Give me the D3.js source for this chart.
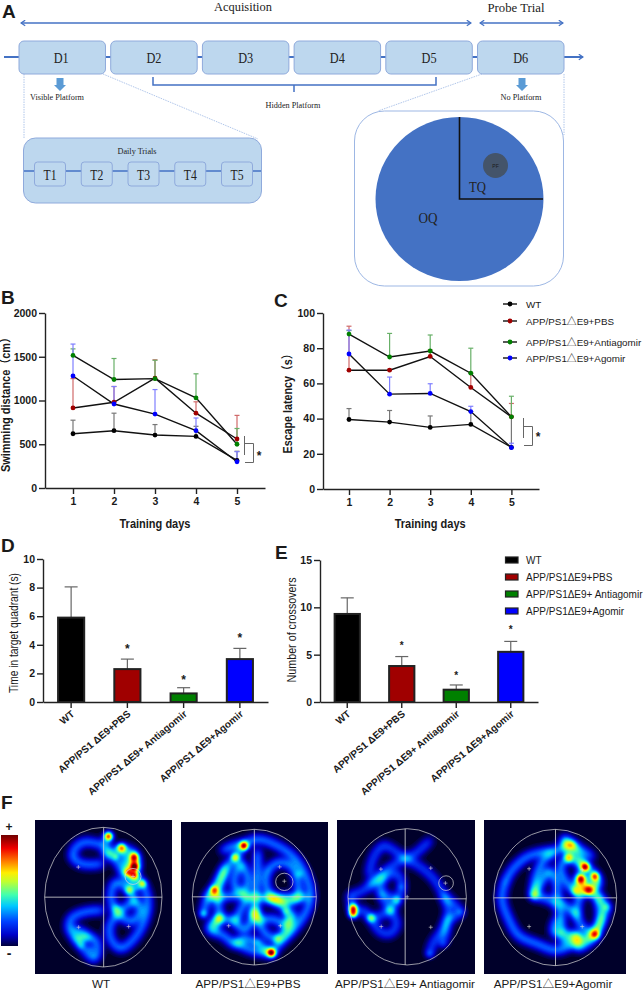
<!DOCTYPE html>
<html><head><meta charset="utf-8">
<script src="https://cdnjs.cloudflare.com/ajax/libs/d3/7.8.5/d3.min.js"></script>
<style>
html,body{margin:0;padding:0;background:#fff}
svg{display:block}
text{font-family:"Liberation Sans","Noto Sans CJK SC",Arial,sans-serif;fill:#1a1a1a}
.serif{font-family:"Liberation Serif","Noto Serif",serif;fill:#222}
</style></head><body>
<svg id="c" width="643" height="992"></svg>
<script>
// ---------- data ----------
const days=[1,2,3,4,5];
const lineGroups=["WT","APP/PS1△E9+PBS","APP/PS1△E9+Antiagomir","APP/PS1△E9+Agomir"];
const lineColors=["#000000","#a00000","#008000","#0000ff"];
const errColors=["#777777","#d06a6a","#68b068","#7f7fff"];
const distWT=[620,655,605,590,315], distWTtop=[775,855,725,705,420];
const distPBS=[915,980,1255,855,560], distPBStop=[1250,1160,1465,985,830];
const distAnti=[1515,1240,1250,1030,500], distAntitop=[1590,1480,1460,1305,680];
const distAgo=[1280,960,845,655,300], distAgotop=[1645,1160,1125,800,415];
const latWT=[39.5,38,35,36.7,23.7], latWTtop=[45.7,44.6,41.5,44,41];
const latPBS=[67.5,67.5,75.3,57.7,41], latPBStop=[92.5,68,79,66,48.6];
const latAnti=[88,75,78.4,65.8,41], latAntitop=[90,88.4,87.5,80,52.7];
const latAgo=[76.7,53.9,54.3,44,23.5], latAgotop=[90.3,63.6,59.8,47,26];
const barGroups=["WT","APP/PS1 ΔE9+PBS","APP/PS1 ΔE9+ Antiagomir","APP/PS1 ΔE9+Agomir"];
const barColors=["#000000","#a00000","#008000","#0000ff"];
const timeVals=[5.9,2.3,0.6,3.0], timeTop=[8.05,3.0,1.0,3.75];
const crossVals=[9.3,3.8,1.3,5.3], crossTop=[11,4.8,1.8,6.4];
const schedule=["D1","D2","D3","D4","D5","D6"];
const trials=["T1","T2","T3","T4","T5"];
const heatLabels=["WT","APP/PS1△E9+PBS","APP/PS1△E9+ Antiagomir","APP/PS1△E9+Agomir"];
// swim tracks, in camera units of each frame
const tracks1=[
 [[305,150],[250,140],[222,160],[215,185],[240,205],[280,208],[305,205]],
 [[322,125],[315,160],[330,175],[360,160],[375,200],[385,230],[400,180],[405,240],[430,275],[440,310],[440,345],[420,400],[390,440],[360,460],[335,440],[325,400],[345,360],[380,330],[400,315],[385,285],[345,260],[330,300],[340,340]],
 [[310,170],[350,200],[370,240],[400,265],[385,285]],
 [[305,345],[250,350],[210,370],[205,400],[225,430],[245,455],[280,490],[290,470],[285,435],[265,425],[235,405],[215,400]],
 [[225,430],[265,425]],[[340,340],[390,380],[420,340],[400,315]],[[360,160],[395,170],[410,220]]];
const hot1=[[323,123,.7],[362,157,.42],[400,185,.36],[402,215,.48],[400,240,.5],[380,230,.28],[425,265,.36],[385,285,.2],[345,338,.1],[240,450,.1],[270,460,.08],[345,185,.14,7],[385,235,.14,7],[410,280,.1,7]];
const tracks2=[
 [[608,355],[620,310],[645,270],[680,210],[705,185],[728,150]],
 [[665,165],[700,150],[725,145],[770,130],[830,150],[880,185],[915,240],[930,300],[915,350],[880,400],[850,430],[830,450],[812,472],[770,440],[725,430],[700,445],[670,420],[625,400],[650,370],[705,372],[720,340],[740,305],[700,300],[650,305],[620,300]],
 [[800,225],[830,200],[870,210],[890,260],[890,310],[850,320],[810,300],[795,260],[800,225]],
 [[720,200],[740,240],[730,290],[700,270],[710,220],[720,200]],
 [[675,215],[660,260],[650,300],[655,370],[640,400]],
 [[770,165],[770,220],[765,305],[770,370],[800,420],[830,430]],
 [[740,305],[800,310],[860,345],[855,390],[820,370],[770,370],[760,340],[740,400],[720,400],[700,370]],
 [[800,305],[920,305]],[[705,440],[740,460],[780,470],[810,472]],[[880,350],[860,400],[830,430]]];
const hot2=[[730,150,.62],[703,185,.36],[640,283,.4],[608,355,.22],[812,472,.66],[855,347,.16],[655,368,.12],[830,430,.14],[895,235,.1],[770,440,.08]];
const tracks3=[
 [[300,135],[255,175],[225,190],[180,215],[130,255],[115,270]],
 [[115,240],[130,185],[160,150],[190,165],[225,190],[270,215],[310,250],[340,300],[355,350],[340,400],[310,440],[298,475]],
 [[340,300],[390,350],[370,365],[355,370],[345,420],[338,445]],
 [[60,300],[90,290],[130,265],[160,245],[200,235],[215,270],[200,315],[180,345],[150,360],[122,368],[100,345],[70,345],[60,300]],
 [[150,290],[200,315]],
 [[160,245],[150,290],[180,345],[200,385],[180,415],[150,410],[122,368]]];
const hot3=[[68,338,.58],[68,355,.62],[122,368,.26],[200,315,.14],[180,345,.08],[212,275,.08],[392,350,.08],[298,475,.14],[338,445,.1]];
const tracks4=[
 [[525,260],[545,225],[590,185],[640,170],[680,165],[720,145]],
 [[525,260],[515,310],[535,370],[565,420],[620,445],[680,465],[740,440],[790,415],[830,335]],
 [[610,300],[615,250],[640,195],[670,175]],
 [[610,300],[670,320],[690,350],[690,415],[670,410],[680,370]],
 [[610,300],[640,250],[655,225],[680,265],[680,310]],
 [[725,148],[700,130],[715,180],[690,215],[730,285],[770,290],[800,300],[830,335]],
 [[715,188],[765,215],[795,243],[775,285],[750,250],[735,288]],
 [[765,215],[745,250],[775,285],[805,265],[795,243]],
 [[785,185],[760,170],[725,148],[745,185],[765,215]],
 [[750,290],[740,360],[760,400],[795,418],[742,458],[745,420]],
 [[800,300],[810,370],[795,418]],[[690,415],[745,420],[690,440]],[[680,310],[740,360]]];
const hot4=[[765,215,.46],[793,243,.46],[752,250,.42],[775,285,.2],[715,188,.3],[735,288,.16],[725,148,.12],[795,418,.28],[830,335,.12],[610,302,.12],[770,250,.12,9]];
const plus1=[[234,217],[235,397],[385,395],[398,245]];
const plus2=[[838,215],[852,258],[685,392],[840,392]];
const plus3=[[153,223],[303,220],[347,265],[154,395],[303,397],[232,306]];
const plus4=[[598,222],[598,395],[757,395],[757,225]];

// ---------- helpers ----------
const svg=d3.select("#c");
const defs=svg.append("defs");
const BLUE="#4472c4";
defs.append("marker").attr("id","ah").attr("viewBox","0 0 10 10").attr("refX",8).attr("refY",5)
 .attr("markerWidth",7).attr("markerHeight",7).attr("orient","auto-start-reverse").attr("markerUnits","userSpaceOnUse")
 .append("path").attr("d","M2,1L8,5L2,9").attr("fill","none").attr("stroke",BLUE).attr("stroke-width",1.8);
const T=(s,x,y,str,o={})=>{const t=s.append("text").attr("x",x).attr("y",y).text(str);
 Object.entries(o).forEach(([k,v])=>t.attr(k,v));return t;};
["A","B","C","D","E","F"].forEach((l,i)=>{
 const p=[[2,18],[1,304],[274,307],[1,552],[275,559],[1,809]][i];
 T(svg,p[0],p[1],l,{"font-size":19,"font-weight":"bold","fill":"#111"}).style("font-family",'"Liberation Sans Narrow","Liberation Sans"');
});

// ---------- panel A ----------
const A=svg.append("g");
const line=(x1,y1,x2,y2,c,w,extra={})=>{const l=A.append("line").attr("x1",x1).attr("y1",y1).attr("x2",x2).attr("y2",y2).attr("stroke",c).attr("stroke-width",w);
 Object.entries(extra).forEach(([k,v])=>l.attr(k,v));return l;};
const serif=(x,y,s,fs,o={})=>T(A,x,y,s,Object.assign({"class":"serif","font-size":fs,"text-anchor":"middle"},o));
serif(243,11,"Acquisition",12.5,{"textLength":58,"lengthAdjust":"spacingAndGlyphs"});
serif(516,12,"Probe Trial",13,{"textLength":57,"lengthAdjust":"spacingAndGlyphs"});
line(21,23,471,23,BLUE,1.5,{"marker-start":"url(#ah)","marker-end":"url(#ah)"});
line(480,23,563,23,BLUE,1.5,{"marker-start":"url(#ah)","marker-end":"url(#ah)"});
line(4,57,583,57,BLUE,2,{"marker-end":"url(#ah)"});
const guide={"stroke-dasharray":"1.5 1"};
line(24,74,24,138,"#9db7e4",.8,guide);line(103,74,258,139,"#9db7e4",.8,guide);
line(482,74,378,111,"#9db7e4",.8,guide);line(564,74,564,135,"#9db7e4",.8,guide);
const dScale=d3.scaleBand().domain(schedule).range([19,564]).paddingInner(.057);
schedule.forEach(d=>{
 A.append("rect").attr("x",dScale(d)).attr("y",41).attr("width",dScale.bandwidth()).attr("height",33).attr("rx",5)
  .attr("fill","#bdd7ee").attr("stroke","#8faadc").attr("stroke-width",1);
 serif(dScale(d)+dScale.bandwidth()/2+(d==="D1"?-1:0),63,d,15,{"textLength":15,"lengthAdjust":"spacingAndGlyphs"});
});
const down=(x)=>A.append("path").attr("fill","#5b9bd5")
 .attr("d",`M${x-3.5},78H${x+3.5}V85H${x+6}L${x},91L${x-6},85H${x-3.5}Z`);
down(60);down(522);
serif(57,100,"Visible  Platform",9,{"textLength":54,"lengthAdjust":"spacingAndGlyphs"});
serif(521,100,"No Platform",9,{"textLength":41,"lengthAdjust":"spacingAndGlyphs"});
serif(293,108,"Hidden  Platform",9,{"textLength":55,"lengthAdjust":"spacingAndGlyphs"});
A.append("path").attr("d","M153,77V85H436V77M294,85V92").attr("fill","none").attr("stroke",BLUE).attr("stroke-width",1.5);
A.append("rect").attr("x",23.5).attr("y",138).attr("width",238).attr("height",65).attr("rx",12)
 .attr("fill","#bdd7ee").attr("stroke","#8faadc");
serif(137,154,"Daily  Trials",9,{"textLength":39,"lengthAdjust":"spacingAndGlyphs"});
line(24,171,261,171,BLUE,1.5);
const tScale=d3.scalePoint().domain(trials).range([50,237]);
trials.forEach(t=>{
 A.append("rect").attr("x",tScale(t)-15.5).attr("y",162).attr("width",31).attr("height",24).attr("rx",3)
  .attr("fill","#bdd7ee").attr("stroke","#8faadc");
 serif(tScale(t),179.5,t,14.5,{"textLength":13,"lengthAdjust":"spacingAndGlyphs"});
});
A.append("rect").attr("x",354.5).attr("y",111).attr("width",209).attr("height",175).attr("rx",30)
 .attr("fill","#fff").attr("stroke","#9db7e4");
A.append("ellipse").attr("cx",459.5).attr("cy",199).attr("rx",84).attr("ry",82).attr("fill",BLUE);
A.append("path").attr("d","M459.5,117V199H543").attr("fill","none").attr("stroke","#111").attr("stroke-width",1.6);
A.append("ellipse").attr("cx",495.5).attr("cy",165.5).attr("rx",12.5).attr("ry",12.5).attr("fill","#44546a");
T(A,495.5,167.5,"PF",{"font-size":5,"text-anchor":"middle","fill":"#cfd6e4"});
serif(477.5,192,"TQ",15,{"textLength":17,"lengthAdjust":"spacingAndGlyphs"});
serif(428,223,"OQ",15,{"textLength":19,"lengthAdjust":"spacingAndGlyphs"});

// ---------- axes and line charts ----------
function axes(g,x,y,xv,yv,xb,yb){
 const xa=g.append("g").attr("transform",`translate(0,${xb})`).call(d3.axisBottom(x).tickValues(xv).tickFormat(d=>d).tickSize(6).tickPadding(4).tickSizeOuter(0));
 const ya=g.append("g").attr("transform",`translate(${yb},0)`).call(d3.axisLeft(y).tickValues(yv).tickFormat(d=>d).tickSize(6).tickPadding(2).tickSizeOuter(0));
 [xa,ya].forEach(a=>{a.attr("font-family",null);
  a.selectAll("path,line").attr("stroke","#222").attr("stroke-width",1.4);
  a.selectAll("text").attr("font-size",10.5).style("font-weight","bold");});
 return xa;
}
function lineChart(o){
 const g=svg.append("g");
 const x=d3.scaleLinear().domain([1-(o.x1-o.left)/o.step,5+(o.right-o.x1-4*o.step)/o.step]).range([o.left,o.right]);
 const y=d3.scaleLinear().domain([0,o.max]).range([o.bottom,o.top]);
 axes(g,x,y,days,o.ticks,o.bottom,o.left);
 o.series.forEach((s,i)=>{
  days.forEach((d,j)=>{
   g.append("line").attr("x1",x(d)).attr("x2",x(d)).attr("y1",y(s[0][j])).attr("y2",y(s[1][j])).attr("stroke",errColors[i]).attr("stroke-width",1.2);
   g.append("line").attr("x1",x(d)-2.5).attr("x2",x(d)+2.5).attr("y1",y(s[1][j])).attr("y2",y(s[1][j])).attr("stroke",errColors[i]).attr("stroke-width",1.2);
  });
 });
 const ln=d3.line().x((v,j)=>x(days[j])).y(v=>y(v));
 o.series.forEach(s=>g.append("path").attr("d",ln(s[0])).attr("fill","none").attr("stroke","#111").attr("stroke-width",1.4));
 o.series.forEach((s,i)=>g.selectAll(null).data(s[0]).join("circle")
   .attr("cx",(v,j)=>x(days[j])).attr("cy",v=>y(v)).attr("r",2.4).attr("fill",lineColors[i]));
 T(g,o.tx,o.ty,o.ylabel,{"font-size":12,"font-weight":"bold","text-anchor":"middle","textLength":o.tl,"lengthAdjust":"spacingAndGlyphs","transform":`rotate(-90 ${o.tx} ${o.ty})`});
 T(g,x(3),528,"Training days",{"font-size":12.5,"font-weight":"bold","text-anchor":"middle","textLength":71,"lengthAdjust":"spacingAndGlyphs"});
 g.append("path").attr("d",o.bracket).attr("fill","none").attr("stroke","#666").attr("stroke-width",1);
 T(g,o.star[0],o.star[1],"*",{"font-size":12,"font-weight":"bold","text-anchor":"middle"});
}
lineChart({left:45,right:265,x1:73,step:41,top:313,bottom:488,max:2000,ticks:[0,500,1000,1500,2000],
 series:[[distWT,distWTtop],[distPBS,distPBStop],[distAnti,distAntitop],[distAgo,distAgotop]],
 tx:10,ty:402,tl:140,ylabel:"Swimming distance（cm）",bracket:"M244.5,436V455M245,443.5H253.5V462.5H245",star:[259,460]});
lineChart({left:323,right:539,x1:349,step:40.6,top:313,bottom:489,max:100,ticks:[0,20,40,60,80,100],
 series:[[latWT,latWTtop],[latPBS,latPBStop],[latAnti,latAntitop],[latAgo,latAgotop]],
 tx:292,ty:401,tl:105,ylabel:"Escape latency（s）",bracket:"M523.5,418V438M524,426.5H532.5V445.5H524",star:[538,441]});
const legY=d3.scaleOrdinal().domain(lineGroups).range([304,321,342,358]);
lineGroups.forEach((l,i)=>{
 svg.append("line").attr("x1",503).attr("x2",517).attr("y1",legY(l)).attr("y2",legY(l)).attr("stroke","#111").attr("stroke-width",1.4);
 svg.append("circle").attr("cx",510).attr("cy",legY(l)).attr("r",2.4).attr("fill",lineColors[i]);
 T(svg,526,legY(l)+4,l,{"font-size":9.8});
});

// ---------- bar charts ----------
function barChart(o){
 const g=svg.append("g");
 const x=d3.scaleBand().domain(barGroups).range([o.left,o.right]).paddingInner(.5).paddingOuter(.25);
 const y=d3.scaleLinear().domain([0,o.max]).range([o.bottom,o.top]);
 const xa=axes(g,x,y,barGroups,o.ticks,o.bottom,o.left);
 xa.selectAll("text").attr("text-anchor","end").attr("x",0).attr("y",0).attr("dy",0)
   .attr("transform","translate(4,13) rotate(-40)").attr("font-size",o.fs).style("font-weight",o.weight);
 barGroups.forEach((b,i)=>{
  const c=x(b)+x.bandwidth()/2;
  g.append("line").attr("x1",c).attr("x2",c).attr("y1",y(o.vals[i])).attr("y2",y(o.tops[i])).attr("stroke","#666").attr("stroke-width",1.2);
  g.append("line").attr("x1",c-6.5).attr("x2",c+6.5).attr("y1",y(o.tops[i])).attr("y2",y(o.tops[i])).attr("stroke","#666").attr("stroke-width",1.2);
  g.append("rect").attr("x",x(b)+1).attr("width",x.bandwidth()-2).attr("y",y(o.vals[i])).attr("height",y(0)-y(o.vals[i]))
   .attr("fill",barColors[i]).attr("stroke","#222").attr("stroke-width",2);
  if(i) T(g,c,y(o.tops[i])-o.starGap[i],"*",{"font-size":o.sfs,"font-weight":o.weight,"text-anchor":"middle"});
 });
 T(g,o.tx,o.ty,o.ylabel,{"font-size":12,"text-anchor":"middle","textLength":o.tl,"lengthAdjust":"spacingAndGlyphs","transform":`rotate(-90 ${o.tx} ${o.ty})`});
}
barChart({left:43,right:268,top:559,bottom:702,max:10,ticks:[0,2,4,6,8,10],vals:timeVals,tops:timeTop,
 tx:18,ty:633,tl:120,ylabel:"Time in target quadrant (s)",fs:10,weight:"bold",sfs:12,starGap:[0,6,4,6]});
barChart({left:320,right:538,top:560,bottom:702,max:15,ticks:[0,5,10,15],vals:crossVals,tops:crossTop,
 tx:296,ty:630,tl:105,ylabel:"Number of crossovers",fs:10,weight:"bold",sfs:10,starGap:[0,8,6,8]});
barGroups.forEach((b,i)=>{
 const yy=[560,577,594,611][i];
 svg.append("rect").attr("x",505.5).attr("y",yy-3).attr("width",12.5).attr("height",6).attr("fill",barColors[i]).attr("stroke","#222").attr("stroke-width",1.2);
 T(svg,526,yy+4,b.replace(" Δ","Δ"),{"font-size":10});
});

// ---------- panel F ----------
const gradStops=[[0,"#00003a"],[.1,"#0000c8"],[.22,"#0040ff"],[.36,"#00c8ff"],[.46,"#40ffb0"],[.58,"#c0ff30"],[.66,"#ffee00"],[.76,"#ff8000"],[.88,"#f00000"],[1,"#700000"]];
const jet=d3.scaleLinear().domain(gradStops.map(d=>d[0])).range(gradStops.map(d=>d[1])).clamp(true);
const grad=defs.append("linearGradient").attr("id","jet").attr("x1",0).attr("x2",0).attr("y1",1).attr("y2",0);
gradStops.forEach(s=>grad.append("stop").attr("offset",s[0]).attr("stop-color",s[1]));
svg.append("rect").attr("x",1).attr("y",835).attr("width",17).attr("height",111).attr("fill","url(#jet)");
T(svg,9,831,"+",{"font-size":12,"font-weight":"bold","text-anchor":"middle"});
T(svg,9,958,"-",{"font-size":14,"font-weight":"bold","text-anchor":"middle"});

function heat(o){
 const W=o.right-o.left,H=o.bottom-o.top;
 const x=d3.scaleLinear().domain(o.dx).range([0,W]);
 const y=d3.scaleLinear().domain(o.dy).range([0,H]);
 const g=svg.append("g").attr("transform",`translate(${o.left},${o.top})`);
 g.append("rect").attr("width",W).attr("height",H).attr("fill","#00002a");
 const vals=new Float64Array(W*H);
 const sig=4.1,w=o.base/(sig*Math.sqrt(2*Math.PI));
 const stamp=(px,py,a,s)=>{
  const r=Math.ceil(s*3.2);
  for(let j=Math.max(0,Math.floor(py-r));j<=Math.min(H-1,py+r);j++)
  for(let i=Math.max(0,Math.floor(px-r));i<=Math.min(W-1,px+r);i++){
   const d=(i-px)*(i-px)+(j-py)*(j-py);
   vals[j*W+i]+=a*Math.exp(-d/(2*s*s));
  }};
 o.tracks.forEach(tr=>{
  const curve=d3.line().x(p=>x(p[0])).y(p=>y(p[1])).curve(d3.curveCatmullRom.alpha(.5));
  const p=document.createElementNS("http://www.w3.org/2000/svg","path");
  p.setAttribute("d",curve(tr));
  const L=p.getTotalLength();
  for(let s=0;s<L;s+=1){const q=p.getPointAtLength(s);stamp(q.x,q.y,w,sig);}
 });
 o.hot.forEach(h=>stamp(x(h[0]),y(h[1]),h[2],(h[3]||9)/3));
 const th=d3.range(.012,1.3,.014);
 const cs=d3.contours().size([W,H]).thresholds(th)(Array.from(vals));
 const path=d3.geoPath();
 g.selectAll(null).data(cs).join("path").attr("d",path).attr("fill",d=>jet(d.value));
 const lc="#d8d8d8";
 g.append("ellipse").attr("cx",x(o.cx)).attr("cy",y(o.cy)).attr("rx",x(o.cx+o.rx)-x(o.cx)).attr("ry",y(o.cy+o.ry)-y(o.cy))
  .attr("fill","none").attr("stroke",lc).attr("stroke-width",.7);
 g.append("line").attr("x1",x(o.cx-o.rx)).attr("x2",x(o.cx+o.rx)).attr("y1",y(o.cross[1])).attr("y2",y(o.cross[1])).attr("stroke",lc).attr("stroke-width",.8);
 g.append("line").attr("x1",x(o.cross[0])).attr("x2",x(o.cross[0])).attr("y1",y(o.cy-o.ry)).attr("y2",y(o.cy+o.ry)).attr("stroke",lc).attr("stroke-width",.8);
 o.plus.forEach(p=>g.append("path").attr("d",`M${x(p[0])-2},${y(p[1])}h4M${x(p[0])},${y(p[1])-2}v4`).attr("stroke",lc).attr("stroke-width",.6));
 if(o.ring) g.append("ellipse").attr("cx",x(o.ring[0])).attr("cy",y(o.ring[1])).attr("rx",o.ring[2]/3).attr("ry",o.ring[2]/3).attr("fill","none").attr("stroke",lc).attr("stroke-width",.7);
}
heat({base:.24,left:35,right:172,top:820,bottom:974,dx:[104,515],dy:[76,537],cx:309,cy:307,rx:176,ry:209,cross:[310,307],tracks:tracks1,hot:hot1,plus:plus1,ring:[398,245,24]});
heat({base:.25,left:181,right:328,top:822,bottom:974,dx:[542,983],dy:[80,537],cx:762,cy:306,rx:186,ry:204,cross:[762,305],tracks:tracks2,hot:hot2,plus:plus2,ring:[852,260,26]});
heat({base:.18,left:337,right:475,top:820,bottom:974,dx:[21,436],dy:[76,537],cx:232,cy:306,rx:178,ry:204,cross:[226,312],tracks:tracks3,hot:hot3,plus:plus3,ring:[349,265,22]});
heat({base:.25,left:484,right:626,top:820,bottom:974,dx:[463,888],dy:[76,537],cx:676,cy:308,rx:184,ry:204,cross:[677,309],tracks:tracks4,hot:hot4,plus:plus4});
[101,248,405,553].forEach((cx,i)=>T(svg,cx,988,heatLabels[i],{"font-size":11.7,"text-anchor":"middle","fill":"#222"}));
</script>
</body></html>
